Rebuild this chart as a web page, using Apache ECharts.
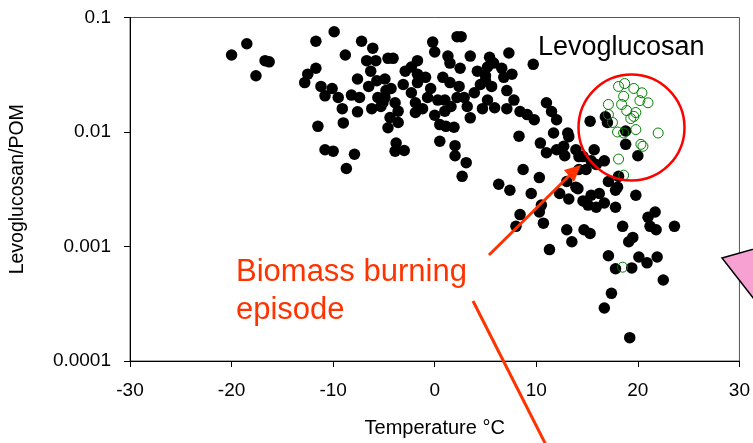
<!DOCTYPE html>
<html>
<head>
<meta charset="utf-8">
<script src="https://cdn.jsdelivr.net/npm/echarts@6/dist/echarts.min.js"></script>
<style>
html,body{margin:0;padding:0;background:#fff;}
#chart{width:753px;height:443px;}
</style>
</head>
<body>
<div id="chart"></div>
<script>
// Temperature (°C) of black (filled) samples
const blackTemp = [
-20.0,-18.5,-17.6,-16.7,-16.3,-12.8,-12.5,-11.7,-11.7,-9.9,-8.8,-7.2,-6.1,-11.2,-10.8,-10.1,-9.5,-9.1,-8.2,-7.4,
-7.6,-9.0,-11.5,-10.8,-10.0,-7.9,-8.7,-7.6,-6.7,-6.3,-6.5,-5.7,-5.6,-6.2,-5.8,-4.8,-5.1,-4.4,-4.6,-3.6,
-3.8,-3.9,-3.0,-4.6,-4.1,-1.7,-2.3,-2.9,-1.7,-0.9,-0.4,-2.3,-4.9,-4.3,-4.9,-3.9,-1.9,-0.7,-3.6,-1.9,
-5.3,-0.2,0.0,2.2,2.6,1.3,1.5,2.5,3.5,5.4,7.3,9.7,0.8,1.5,2.4,2.9,1.0,1.0,0.0,3.2,
3.9,4.5,5.0,4.2,5.2,5.8,6.6,6.8,7.6,5.0,5.6,7.1,7.8,5.2,4.7,3.5,5.9,7.1,8.4,9.1,
9.8,11.0,11.5,12.0,2.2,1.6,0.3,0.5,1.1,1.9,0.5,2.0,2.0,3.1,2.7,-1.7,-1.2,-3.1,8.3,8.7,
10.3,6.3,7.4,9.5,10.4,11.0,11.7,12.7,13.1,12.8,12.0,13.9,14.2,13.0,12.3,14.1,10.5,15.3,15.7,14.9,
15.4,15.9,14.6,15.4,16.2,16.8,17.0,18.8,18.8,20.0,14.6,16.7,13.2,14.2,17.1,18.1,18.0,13.9,19.8,16.7,
17.8,17.8,15.9,10.3,8.4,8.0,10.7,13.0,13.5,14.7,15.3,11.3,18.5,19.5,19.1,21.0,21.7,21.2,21.8,23.6,
17.1,17.8,19.4,20.1,20.9,21.9,22.5,17.4,16.7,19.2,13.2,15.1
];
// Levoglucosan/POM of black samples
const blackRatio = [
0.047,0.059,0.031,0.042,0.041,0.027,0.032,0.036,0.062,0.075,0.047,0.062,0.054,0.025,0.0207,0.024,0.020,0.016,0.021,0.020,
0.015,0.012,0.0112,0.0070,0.0068,0.0064,0.0048,0.029,0.042,0.034,0.025,0.028,0.020,0.016,0.042,0.023,0.018,0.0134,0.0109,0.0121,
0.0080,0.0068,0.0069,0.044,0.044,0.042,0.037,0.034,0.032,0.030,0.024,0.022,0.029,0.024,0.020,0.018,0.018,0.020,0.0152,0.0148,
0.0167,0.061,0.050,0.068,0.068,0.046,0.040,0.036,0.046,0.045,0.049,0.039,0.030,0.027,0.025,0.020,0.019,0.0152,0.014,0.0167,
0.022,0.026,0.031,0.034,0.037,0.040,0.036,0.030,0.032,0.028,0.025,0.023,0.019,0.019,0.016,0.0133,0.0163,0.016,0.0151,0.0142,
0.0128,0.018,0.0151,0.0128,0.020,0.0167,0.019,0.0116,0.0112,0.011,0.0083,0.0076,0.0062,0.0054,0.0041,0.027,0.016,0.026,0.0092,0.0047,
0.0040,0.0035,0.0031,0.0029,0.0080,0.0066,0.0098,0.0075,0.0098,0.0062,0.0070,0.0070,0.0061,0.0037,0.0029,0.0032,0.0023,0.0124,0.0070,0.0047,
0.0056,0.0052,0.0025,0.0028,0.0029,0.0136,0.0121,0.0102,0.0078,0.0062,0.0061,0.0056,0.0091,0.0047,0.0037,0.0041,0.0033,0.0033,0.0028,0.0024,
0.0022,0.0031,0.0022,0.0020,0.0019,0.0015,0.0016,0.0014,0.0011,0.0014,0.0013,0.00094,0.0015,0.0012,0.0011,0.0018,0.0020,0.0015,0.0014,0.0015,
0.00083,0.00064,0.00065,0.00081,0.00072,0.00081,0.00051,0.00039,0.00029,0.00016,0.0026,0.0023
];
// Biomass burning episode samples (green open circles)
const greenTemp = [18.1,18.7,19.6,20.4,18.6,20.2,21.0,17.1,18.4,18.9,19.8,19.6,19.3,17.1,17.5,18.0,18.6,19.8,22.0,20.3,20.5,18.1,18.6,18.5];
const greenRatio = [0.025,0.0265,0.024,0.022,0.0205,0.0188,0.018,0.0174,0.0174,0.0154,0.0148,0.0137,0.0131,0.0142,0.0121,0.0100,0.0098,0.0105,0.0098,0.0078,0.0075,0.0058,0.0042,0.00066];

const xTicks = [-30,-20,-10,0,10,20,30];
const yTickLabels = {'0.1':'0.1','0.01':'0.01','0.001':'0.001','0.0001':'0.0001'};

const zip = (a,b) => a.map((v,i)=>[v,b[i]]);
const FONT = '"Liberation Sans", Arial, sans-serif';
const RED = '#ff3300';

const chart = echarts.init(document.getElementById('chart'));
chart.setOption({
  animation:false,
  backgroundColor:'#fff',
  grid:{left:129,right:8,top:17.5,bottom:81,show:true,borderColor:'#555',borderWidth:1},
  xAxis:{
    type:'value',min:xTicks[0],max:xTicks[xTicks.length-1],interval:10,
    name:'Temperature °C',nameLocation:'middle',nameGap:57,
    nameTextStyle:{fontFamily:FONT,fontSize:20,color:'#000'},
    axisLine:{onZero:false,lineStyle:{color:'#000',width:1}},
    axisTick:{show:true,length:6,lineStyle:{color:'#000'}},
    axisLabel:{fontFamily:FONT,fontSize:19,color:'#000',margin:20},
    splitLine:{show:false}
  },
  yAxis:{
    type:'log',logBase:10,min:0.0001,max:0.1,
    name:'Levoglucosan/POM',nameLocation:'middle',nameGap:102,
    nameTextStyle:{fontFamily:FONT,fontSize:19.5,color:'#000'},
    axisLine:{show:true,onZero:false,lineStyle:{color:'#000',width:1}},
    axisTick:{show:true,length:6,lineStyle:{color:'#000'}},
    axisLabel:{fontFamily:FONT,fontSize:19,color:'#000',margin:19,
      formatter:v=>{const k=String(Number(v.toPrecision(3)));return yTickLabels[k]||k;}},
    splitLine:{show:false},minorTick:{show:false}
  },
  series:[
    {type:'scatter',data:zip(blackTemp,blackRatio),symbol:'circle',symbolSize:11.5,
     itemStyle:{color:'#000',opacity:1},z:2},
    {type:'scatter',data:zip(greenTemp,greenRatio),symbol:'circle',symbolSize:10,
     itemStyle:{color:'rgba(0,0,0,0)',borderColor:'#008000',borderWidth:1,opacity:1},z:3}
  ],
  graphic:[
    {type:'text',left:538,top:34,style:{text:'Levoglucosan',font:'27px "Liberation Sans", Arial, sans-serif',fill:'#000'},z:10},
    {type:'circle',shape:{cx:631.5,cy:127.5,r:53},style:{fill:'none',stroke:'#ff0000',lineWidth:2.5},z:10},
    {type:'text',left:236,top:253,style:{text:'Biomass burning\nepisode',font:'31px "Liberation Sans", Arial, sans-serif',fill:RED,lineHeight:38},z:10},
    {type:'line',shape:{x1:489,y1:255,x2:572,y2:173},style:{stroke:RED,lineWidth:3},z:10},
    {type:'polygon',shape:{points:[[581,165],[564,170],[574,182]]},style:{fill:RED},z:10},
    {type:'line',shape:{x1:473,y1:301,x2:546,y2:445},style:{stroke:RED,lineWidth:3},z:10},
    {type:'polygon',shape:{points:[[722,258],[800,236],[790,345]]},style:{fill:'#f7a1d3',stroke:'#000',lineWidth:1.5},z:10}
  ]
});
</script>
</body>
</html>
